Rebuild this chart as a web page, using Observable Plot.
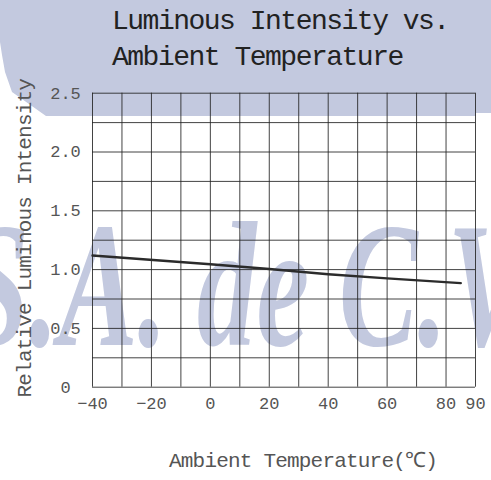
<!DOCTYPE html>
<html>
<head>
<meta charset="utf-8">
<script src="https://cdn.jsdelivr.net/npm/d3@7"></script>
<script src="https://cdn.jsdelivr.net/npm/@observablehq/plot@0.6"></script>
<style>
  html, body { margin: 0; padding: 0; background: #fff; }
  #wrap { position: relative; width: 491px; height: 480px; overflow: hidden; }
  #band { position: absolute; left: 0; top: 0; width: 491px; height: 116px; background: #c3c9df; z-index: 0;
    clip-path: polygon(0 0, 491px 0, 491px 113px, 476px 113px, 476px 116px, 46px 116px, 12px 92px, 5px 72px, 2px 55px, 0 42px); }
  #title { position: relative; z-index: 1; height: 72px; padding: 4px 0 0 112px; font-family: "Liberation Mono", monospace;
    font-size: 28px; line-height: 36px; letter-spacing: -1.5px; color: #222; white-space: pre; }
  #chart { position: relative; z-index: 1; }
</style>
</head>
<body>
<div id="wrap">
  <div id="band"></div>
  <div id="title">Luminous Intensity vs.
Ambient Temperature</div>
  <div id="chart"></div>
</div>
<script>
// Data
const temperature = [-40, 0, 20, 40, 60, 85];
const intensity   = [1.12, 1.045, 1.005, 0.96, 0.925, 0.885];

const xTicks = [-40, -20, 0, 20, 40, 60, 80, 90];
const yTicks = [0, 0.5, 1.0, 1.5, 2.0, 2.5];
const xGrid = [-40, -30, -20, -10, 0, 10, 20, 30, 40, 50, 60, 70, 80, 90];
const yGrid = [0, 0.25, 0.5, 0.75, 1.0, 1.25, 1.5, 1.75, 2.0, 2.25, 2.5];

const xLabel = "Ambient Temperature(℃)";
const yLabel = "Relative Luminous Intensity";
const watermark = ["S.A. de C.V."];

const data = temperature.map((t, i) => ({t, v: intensity[i]}));

const chart = Plot.plot({
  width: 491,
  height: 404,
  marginTop: 16.7,
  marginBottom: 93.3,
  marginLeft: 92,
  marginRight: 16,
  style: {background: "transparent", fontFamily: "Liberation Mono, monospace", fontSize: "17px", color: "#555", overflow: "visible"},
  x: {domain: [-40, 90]},
  y: {domain: [0, 2.5]},
  marks: [
    Plot.text(watermark, {frameAnchor: "top-left", text: d => d, textAnchor: "middle",
      fontFamily: "Liberation Serif, serif", fontWeight: "bold", fontStyle: "italic", fontSize: 177, fill: "#c3c9df", ariaLabel: () => "watermark"}),
    Plot.gridX(xGrid, {stroke: "#222", strokeOpacity: 0.85, strokeWidth: 1}),
    Plot.gridY(yGrid, {stroke: "#222", strokeOpacity: 0.85, strokeWidth: 1}),
    Plot.line(data, {x: "t", y: "v", stroke: "#2b2b2b", strokeWidth: 2.4}),
    Plot.axisX(xTicks, {tickSize: 0, tickPadding: 10, label: null, fill: "#555"}),
    Plot.axisY(yTicks, {tickSize: 0, tickPadding: 27, textAnchor: "middle", label: null, fill: "#555",
      tickFormat: d => d === 0 ? "0" : d.toFixed(1)}),
    Plot.text([xLabel], {frameAnchor: "bottom", text: d => d, dx: 19, dy: 80, fontSize: 21, fill: "#555", ariaLabel: () => "xlabel"}),
    Plot.text([yLabel], {frameAnchor: "left", text: d => d, textAnchor: "middle", rotate: -90, dx: -68, dy: -2, fontSize: 21, fill: "#555", ariaLabel: () => "ylabel"})
  ]
});

const svg = d3.select(chart);
// watermark: behind the grid, horizontally condensed
const wmText = svg.select('text[aria-label="watermark"]');
if (!wmText.empty()) {
  d3.select(wmText.node().parentNode).attr("transform", null);
  wmText.attr("x", null).attr("y", null).attr("dy", null)
    .attr("text-anchor", "middle")
    .attr("transform", "translate(252,269) scale(0.67,1)");
}
svg.selectAll('text[aria-label="xlabel"], text[aria-label="ylabel"]').style("letter-spacing", "-0.8px");

document.getElementById("chart").appendChild(chart);
</script>
</body>
</html>
